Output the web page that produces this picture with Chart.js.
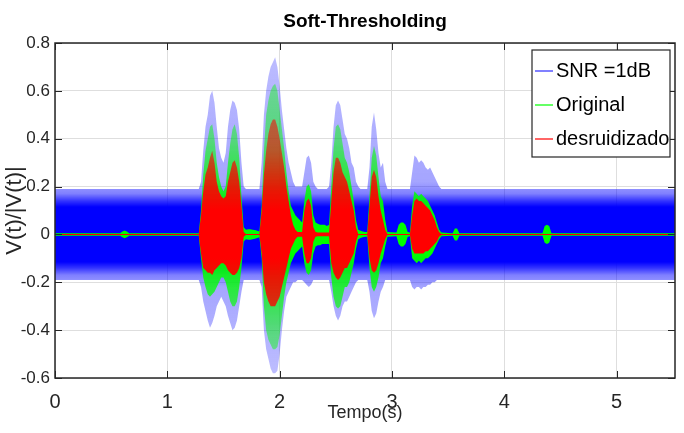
<!DOCTYPE html>
<html>
<head>
<meta charset="utf-8">
<script src="https://cdn.jsdelivr.net/npm/chart.js@4.4.1/dist/chart.umd.min.js"></script>
<style>
  html, body { margin: 0; background: #fff; }
  canvas { display: block; }
</style>
</head>
<body>
<canvas id="chart" width="684" height="433"></canvas>
<script>
// Envelopes of the three signals (max / min of V(t)/|V(t)| around each instant).
const times = [
  0, 0.58, 0.60, 0.62, 0.64, 0.66, 1.28,
  1.30, 1.32, 1.34, 1.36, 1.38, 1.40, 1.42, 1.44, 1.46, 1.48,
  1.50, 1.52, 1.54, 1.56, 1.58, 1.60, 1.62, 1.64, 1.66, 1.68,
  1.70, 1.72, 1.74, 1.76, 1.78, 1.80, 1.82, 1.84, 1.86, 1.88,
  1.90, 1.92, 1.94, 1.96, 1.98, 2.00, 2.02, 2.04, 2.06, 2.08,
  2.10, 2.12, 2.14, 2.16, 2.18, 2.20, 2.22, 2.24, 2.26, 2.28,
  2.30, 2.32, 2.34, 2.36, 2.38, 2.40, 2.42, 2.44, 2.46, 2.48,
  2.50, 2.52, 2.54, 2.56, 2.58, 2.60, 2.62, 2.64, 2.66, 2.68,
  2.70, 2.72, 2.74, 2.76, 2.78, 2.80, 2.82, 2.84, 2.86, 2.88,
  2.90, 2.92, 2.94, 2.96,
  3.04, 3.06, 3.08, 3.10, 3.12, 3.14, 3.16,
  3.18, 3.20, 3.22, 3.24, 3.26, 3.28, 3.30, 3.32, 3.34, 3.36,
  3.38, 3.40, 3.42, 3.44,
  3.54, 3.56, 3.58, 3.60, 4.34, 4.36, 4.38, 4.40, 4.42, 5.52
];

const noisyHi = [
  .19, .19, .19, .19, .19, .19, .19,
  .22, .35, .45, .50, .58, .60, .55, .45, .36, .32,
  .30, .34, .45, .52, .56, .55, .52, .44, .30, .20,
  .19, .19, .19, .19, .19, .19, .19, .30, .50, .60,
  .66, .70, .72, .74, .70, .62, .52, .44, .36, .30,
  .26, .22, .20, .20, .20, .20, .26, .32, .33, .30,
  .22, .20, .19, .19, .19, .19, .19, .20, .30, .45,
  .54, .56, .54, .48, .42, .40, .36, .30, .28, .22,
  .20, .19, .19, .19, .19, .28, .45, .51, .44, .34,
  .28, .30, .22, .19,
  .19, .19, .19, .19, .19, .19, .19,
  .26, .33, .32, .30, .31, .30, .28, .27, .28, .26,
  .24, .22, .20, .19,
  .19, .19, .19, .19, .19, .19, .19, .19, .19, .19
];
const noisyLo = [
  -.19, -.19, -.19, -.19, -.19, -.19, -.19,
  -.22, -.28, -.32, -.36, -.39, -.37, -.34, -.30, -.28, -.26,
  -.28, -.30, -.34, -.37, -.40, -.39, -.36, -.30, -.24, -.19,
  -.19, -.19, -.19, -.19, -.19, -.19, -.19, -.22, -.40, -.48,
  -.52, -.56, -.58, -.58, -.57, -.50, -.40, -.32, -.26, -.24,
  -.22, -.20, -.20, -.19, -.19, -.19, -.20, -.21, -.22, -.21,
  -.19, -.19, -.19, -.19, -.19, -.19, -.19, -.19, -.24, -.30,
  -.34, -.36, -.34, -.30, -.28, -.28, -.26, -.24, -.22, -.20,
  -.19, -.19, -.19, -.19, -.19, -.24, -.32, -.35, -.33, -.28,
  -.24, -.22, -.19, -.19,
  -.19, -.19, -.19, -.19, -.19, -.19, -.19,
  -.22, -.23, -.22, -.22, -.23, -.22, -.22, -.21, -.21, -.20,
  -.20, -.19, -.19, -.19,
  -.19, -.19, -.19, -.19, -.19, -.19, -.19, -.19, -.19, -.19
];

const originalHi = [
  .005, .005, .012, .016, .012, .005, .005,
  .10, .25, .35, .40, .45, .46, .40, .30, .24, .20,
  .18, .20, .30, .38, .44, .46, .42, .32, .16, .03,
  .02, .022, .022, .02, .018, .015, .012, .12, .35, .50,
  .56, .60, .62, .63, .60, .52, .44, .36, .26, .18,
  .12, .10, .08, .07, .06, .05, .14, .20, .21, .18,
  .08, .05, .045, .04, .04, .04, .035, .04, .20, .36,
  .45, .46, .44, .38, .32, .30, .26, .20, .14, .06,
  .02, .015, .012, .01, .01, .16, .32, .37, .33, .24,
  .16, .14, .06, .01,
  .008, .04, .05, .05, .04, .01, .008,
  .12, .18, .17, .16, .17, .16, .15, .14, .12, .10,
  .08, .05, .02, .008,
  .005, .025, .025, .005, .005, .035, .04, .035, .005, .005
];
const originalLo = [
  -.005, -.005, -.012, -.016, -.012, -.005, -.005,
  -.10, -.18, -.22, -.25, -.26, -.25, -.24, -.22, -.20, -.18,
  -.18, -.20, -.24, -.28, -.30, -.30, -.28, -.22, -.14, -.03,
  -.02, -.022, -.022, -.02, -.018, -.015, -.012, -.10, -.30, -.40,
  -.44, -.46, -.48, -.48, -.47, -.42, -.34, -.26, -.20, -.16,
  -.12, -.10, -.08, -.07, -.06, -.05, -.12, -.16, -.17, -.15,
  -.08, -.05, -.045, -.045, -.04, -.04, -.04, -.04, -.18, -.26,
  -.30, -.31, -.30, -.26, -.22, -.22, -.20, -.16, -.12, -.06,
  -.02, -.015, -.012, -.01, -.01, -.14, -.22, -.24, -.22, -.18,
  -.12, -.10, -.05, -.01,
  -.008, -.04, -.05, -.05, -.04, -.01, -.008,
  -.10, -.11, -.12, -.11, -.12, -.11, -.10, -.10, -.09, -.08,
  -.06, -.04, -.02, -.008,
  -.005, -.025, -.025, -.005, -.005, -.035, -.04, -.035, -.005, -.005
];

const denoisedHi = [
  .002, .002, .002, .002, .002, .002, .002,
  .08, .18, .25, .28, .32, .35, .30, .22, .18, .16,
  .15, .16, .22, .26, .30, .31, .28, .22, .12, .01,
  .002, .002, .002, .002, .002, .002, .002, .10, .25, .35,
  .42, .46, .48, .48, .45, .40, .34, .28, .20, .14,
  .08, .04, .02, .01, .01, .01, .10, .14, .15, .12,
  .03, .01, .008, .008, .008, .008, .008, .008, .14, .26,
  .32, .32, .30, .26, .24, .22, .18, .14, .10, .03,
  .002, .002, .002, .002, .002, .12, .24, .27, .24, .16,
  .10, .06, .02, .002,
  .002, .002, .002, .002, .002, .002, .002,
  .08, .14, .15, .14, .14, .13, .12, .11, .10, .08,
  .06, .03, .01, .002,
  .002, .002, .002, .002, .002, .002, .002, .002, .002, .002
];
const denoisedLo = [
  -.002, -.002, -.002, -.002, -.002, -.002, -.002,
  -.08, -.14, -.15, -.16, -.16, -.17, -.15, -.14, -.13, -.12,
  -.12, -.13, -.15, -.16, -.17, -.17, -.16, -.14, -.10, -.01,
  -.002, -.002, -.002, -.002, -.002, -.002, -.002, -.08, -.20, -.25,
  -.28, -.30, -.30, -.30, -.28, -.26, -.22, -.18, -.14, -.10,
  -.06, -.04, -.02, -.01, -.01, -.01, -.08, -.12, -.12, -.10,
  -.03, -.01, -.008, -.008, -.008, -.008, -.008, -.008, -.12, -.16,
  -.18, -.19, -.18, -.16, -.14, -.14, -.12, -.10, -.08, -.03,
  -.002, -.002, -.002, -.002, -.002, -.10, -.15, -.16, -.15, -.12,
  -.08, -.05, -.02, -.002,
  -.002, -.002, -.002, -.002, -.002, -.002, -.002,
  -.06, -.08, -.08, -.08, -.08, -.08, -.07, -.07, -.06, -.05,
  -.04, -.03, -.01, -.002,
  -.002, -.002, -.002, -.002, -.002, -.002, -.002, -.002, -.002, -.002
];

const seriesLabels = ['SNR =1dB', 'Original', 'desruidizado'];
const xTicks = [0, 1, 2, 3, 4, 5];
const yTicks = [-0.6, -0.4, -0.2, 0, 0.2, 0.4, 0.6, 0.8];

// colour ramps: solid near zero, lighter on the sparse peaks
const blueStops = [[0.8, 'rgba(40,40,255,0.3)'], [0.22, 'rgba(30,30,255,0.4)'], [0.17, 'rgba(0,0,255,0.5)'],
  [0.14, 'rgba(0,0,255,0.8)'], [0.115, '#0000ff'], [-0.115, '#0000ff'], [-0.14, 'rgba(0,0,255,0.8)'],
  [-0.17, 'rgba(0,0,255,0.5)'], [-0.22, 'rgba(30,30,255,0.4)'], [-0.6, 'rgba(40,40,255,0.3)']];
const greenStops = [[0.8, 'rgba(0,255,0,0.35)'], [0.4, 'rgba(0,255,0,0.5)'], [0.2, 'rgba(0,255,0,0.8)'], [0.08, '#00ff00'],
  [-0.08, '#00ff00'], [-0.2, 'rgba(0,255,0,0.8)'], [-0.4, 'rgba(0,255,0,0.5)'], [-0.6, 'rgba(0,255,0,0.35)']];
const redStops = [[0.8, 'rgba(255,0,0,0.45)'], [0.35, 'rgba(255,0,0,0.6)'], [0.18, 'rgba(255,0,0,0.9)'], [0.1, '#ff0000'],
  [-0.1, '#ff0000'], [-0.18, 'rgba(255,0,0,0.9)'], [-0.6, 'rgba(255,0,0,0.5)']];
const legendColors = ['#8080ff', '#66ff66', '#ff6666'];

const axisColor = '#262626';

function bandFill(stops) {
  return function (context) {
    const chart = context.chart;
    const area = chart.chartArea;
    if (!area) return 'rgba(0,0,0,0)';
    const y = chart.scales.y;
    const g = chart.ctx.createLinearGradient(0, area.top, 0, area.bottom);
    stops.forEach(([v, c]) => {
      const p = (y.getPixelForValue(v) - area.top) / (area.bottom - area.top);
      g.addColorStop(Math.min(1, Math.max(0, p)), c);
    });
    return g;
  };
}

function band(label, hi, lo, stops, order) {
  const base = { borderWidth: 0, borderColor: 'rgba(0,0,0,0)', pointRadius: 0, tension: 0, order: order };
  return [
    Object.assign({ label: label, data: times.map((t, i) => ({ x: t, y: hi[i] })), fill: '+1', backgroundColor: bandFill(stops) }, base),
    Object.assign({ label: '', data: times.map((t, i) => ({ x: t, y: lo[i] })), fill: false }, base)
  ];
}

const frameTicks = {
  id: 'frameTicks',
  afterDraw(chart) {
    const { ctx, chartArea: a, scales } = chart;
    ctx.save();
    ctx.strokeStyle = axisColor;
    ctx.lineWidth = 1;
    ctx.beginPath();
    xTicks.forEach(v => {
      const px = Math.round(scales.x.getPixelForValue(v)) + 0.5;
      ctx.moveTo(px, a.bottom); ctx.lineTo(px, a.bottom - 7);
      ctx.moveTo(px, a.top); ctx.lineTo(px, a.top + 7);
    });
    yTicks.forEach(v => {
      const py = Math.round(scales.y.getPixelForValue(v)) + 0.5;
      ctx.moveTo(a.left, py); ctx.lineTo(a.left + 7, py);
      ctx.moveTo(a.right, py); ctx.lineTo(a.right - 7, py);
    });
    ctx.stroke();
    ctx.lineWidth = 1.5;
    ctx.strokeRect(a.left, a.top, a.right - a.left, a.bottom - a.top);

    // legend
    const lx = 532, ly = 50, lw = 138, lh = 107;
    ctx.fillStyle = '#fff';
    ctx.fillRect(lx, ly, lw, lh);
    ctx.lineWidth = 1.2;
    ctx.strokeStyle = axisColor;
    ctx.strokeRect(lx, ly, lw, lh);
    ctx.font = '20px "Liberation Sans", Arial, sans-serif';
    ctx.textBaseline = 'middle';
    ctx.textAlign = 'left';
    seriesLabels.forEach((lab, i) => {
      const yy = Math.round(ly + 21 + i * 34);
      ctx.strokeStyle = legendColors[i];
      ctx.lineWidth = 2;
      ctx.beginPath();
      ctx.moveTo(lx + 3, yy); ctx.lineTo(lx + 21, yy);
      ctx.stroke();
      ctx.fillStyle = '#000';
      ctx.fillText(lab, lx + 24, yy);
    });
    ctx.restore();
  }
};

Chart.defaults.font.family = '"Liberation Sans", Arial, sans-serif';

new Chart(document.getElementById('chart'), {
  type: 'line',
  data: {
    datasets: [
      ...band(seriesLabels[0], noisyHi, noisyLo, blueStops, 2),
      ...band(seriesLabels[1], originalHi, originalLo, greenStops, 1),
      ...band(seriesLabels[2], denoisedHi, denoisedLo, redStops, 0)
    ]
  },
  options: {
    responsive: false,
    animation: false,
    devicePixelRatio: 1,
    layout: { padding: { left: 0, right: 9, top: 0, bottom: 0 } },
    plugins: {
      legend: { display: false },
      tooltip: { enabled: false },
      title: {
        display: true,
        text: 'Soft-Thresholding',
        fullSize: false,
        color: '#000',
        font: { size: 19, weight: 'bold' },
        padding: { top: 10, bottom: 10.2 }
      }
    },
    scales: {
      x: {
        type: 'linear',
        min: 0,
        max: 5.52,
        afterBuildTicks: s => { s.ticks = xTicks.map(v => ({ value: v })); },
        afterFit: s => { s.height = 55; },
        grid: { color: '#dedede', drawTicks: false },
        border: { display: false },
        ticks: { color: axisColor, font: { size: 20 }, padding: 12, maxRotation: 0, autoSkip: false,
          callback: v => String(v) },
        title: { display: true, text: 'Tempo(s)', color: axisColor, font: { size: 18 }, padding: { top: 0, bottom: 9 } }
      },
      y: {
        min: -0.6,
        max: 0.8,
        afterBuildTicks: s => { s.ticks = yTicks.map(v => ({ value: v })); },
        afterFit: s => { s.width = 55; },
        grid: { color: '#dedede', drawTicks: false },
        border: { display: false },
        ticks: { color: axisColor, font: { size: 17 }, padding: 5, autoSkip: false,
          callback: v => String(Number(v.toFixed(1))) },
        title: { display: true, text: 'V(t)/|V(t)|', color: axisColor, font: { size: 22 }, padding: { top: 2, bottom: 0 } }
      }
    }
  },
  plugins: [frameTicks]
});
</script>
</body>
</html>
